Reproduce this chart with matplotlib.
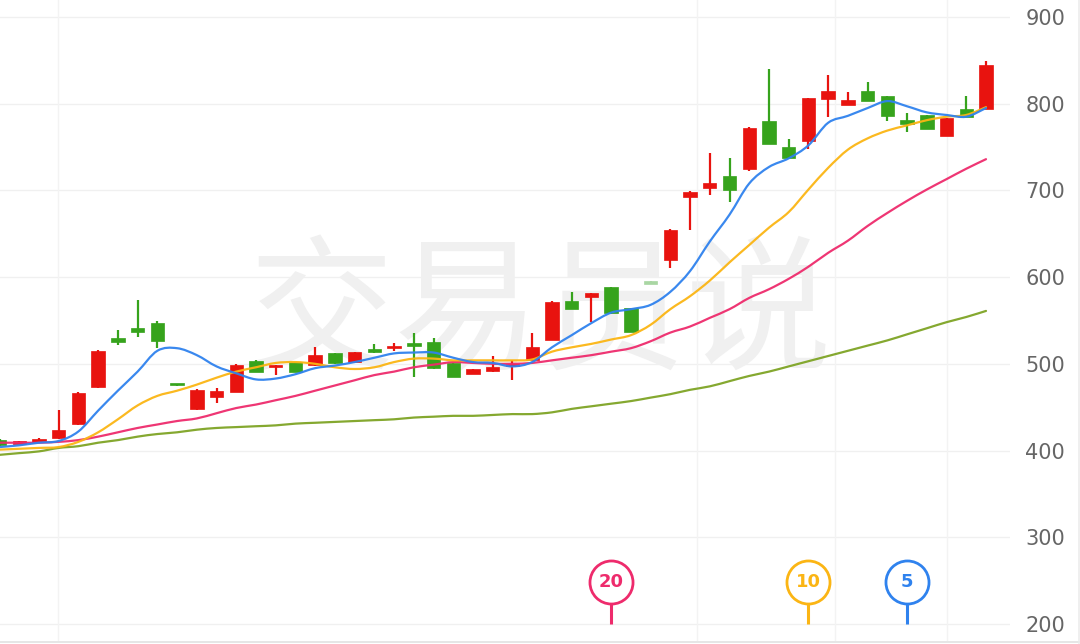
import matplotlib
matplotlib.use("Agg")
import matplotlib.pyplot as plt
from matplotlib.lines import Line2D
from matplotlib.path import Path
from matplotlib.patches import PathPatch
import numpy as np

# ---------------- data ----------------
opens = [412, 408, 410, 414, 431, 473, 530, 541, 547, 477, 448, 462, 468, 503, 496, 502, 499,
         512, 502, 517, 518, 524, 525, 501, 488, 492, 497, 504, 527, 572, 577, 589, 564, 595,
         620, 692, 703, 717, 725, 780, 750, 757, 805, 798, 815, 809, 781, 787, 763, 794, 794]
highs = [413, 411, 414, 447, 467, 516, 539, 574, 549, 477, 471, 472, 500, 504, 499, 502, 519,
         512, 514, 523, 524, 535, 530, 501, 494, 509, 504, 536, 572, 583, 582, 589, 564, 596,
         655, 699, 743, 737, 773, 840, 759, 807, 833, 813, 825, 809, 789, 787, 783, 809, 849]
lows = [405, 407, 409, 413, 430, 472, 522, 531, 518, 474, 447, 455, 467, 490, 487, 490, 498,
        500, 501, 513, 515, 485, 494, 485, 488, 491, 481, 504, 527, 563, 548, 558, 537, 592,
        610, 654, 695, 687, 722, 753, 737, 748, 785, 798, 803, 780, 767, 771, 763, 785, 794]
closes = [406, 410, 413, 424, 466, 515, 525, 537, 526, 475, 470, 469, 499, 491, 499, 491, 510,
          501, 514, 514, 520, 520, 495, 485, 494, 496, 499, 519, 571, 563, 582, 559, 537, 592,
          654, 698, 708, 700, 772, 753, 737, 807, 815, 804, 803, 786, 777, 771, 783, 785, 845]
faded = [33]  # pale (suspended-looking) candle

ma5 = [404, 406, 409, 411, 422, 446, 469, 491, 515, 518, 510, 497, 489, 482, 483, 488, 495,
       498, 502, 507, 512, 513, 513, 507, 502, 501, 497, 502, 519, 533, 547, 559, 563, 568,
       583, 607, 641, 672, 708, 727, 737, 752, 778, 786, 795, 803, 797, 790, 787, 785, 795]
ma10 = [401, 402, 403, 404, 410, 421, 436, 452, 463, 469, 476, 484, 491, 496, 501, 502, 500,
        496, 494, 496, 502, 506, 506, 504, 504, 504, 504, 505, 514, 519, 523, 528, 533, 545,
        563, 578, 596, 617, 637, 657, 675, 701, 726, 747, 760, 769, 775, 781, 785, 787, 796]
ma20 = [409, 409, 409, 410, 412, 416, 421, 426, 430, 434, 437, 443, 449, 453, 458, 463, 469,
        475, 481, 487, 491, 496, 499, 502, 501, 500, 500, 501, 504, 507, 510, 514, 518, 526,
        536, 543, 553, 563, 576, 586, 598, 612, 628, 642, 659, 674, 688, 701, 713, 725, 736]
ma60 = [395, 397, 399, 403, 405, 409, 412, 416, 419, 421, 424, 426, 427, 428, 429, 431, 432,
        433, 434, 435, 436, 438, 439, 440, 440, 441, 442, 442, 444, 448, 451, 454, 457, 461,
        465, 470, 474, 480, 486, 491, 497, 503, 509, 515, 521, 527, 534, 541, 548, 554, 561]

y_ticks = [200, 300, 400, 500, 600, 700, 800, 900]
marker_periods = [20, 10, 5]
watermark = "交易员说"

# ---------------- style ----------------
C_UP = "#e8130f"
C_DN = "#36a31c"
C_FADE = "#a9d6a3"
C_MA5 = "#2f82ee"
C_MA10 = "#fbb514"
C_MA20 = "#ee2b6c"
C_MA60 = "#7ea425"

W, H = 1080, 644
fig = plt.figure(figsize=(W / 100, H / 100), dpi=100)
fig.patch.set_facecolor("white")
ax = fig.add_axes([0, 3 / H, 1010 / W, 1 - 3 / H])
ax.set_facecolor("white")

n = len(closes)
x = np.arange(n)

# watermark
ax.text(0.535, 0.505, watermark, transform=ax.transAxes, ha="center", va="center",
        fontsize=105, color="#f0f0f0", family=["Noto Sans CJK SC", "DejaVu Sans"], zorder=0)

# grid
for v in y_ticks:
    ax.axhline(v, color="#f0f0f0", lw=1.0, zorder=0.5)
for px in [58, 697, 835, 947]:
    ax.axvline((px + 0.5) / 19.73, color="#f3f3f3", lw=1.0, zorder=0.5)

# candles
o = np.array(opens, float); c = np.array(closes, float)
hi = np.array(highs, float); lo = np.array(lows, float)
cols = []
for i in range(n):
    if i in faded:
        cols.append(C_FADE)
    elif c[i] >= o[i]:
        cols.append(C_UP)
    else:
        cols.append(C_DN)
bottom = np.minimum(o, c)
height = np.maximum(np.abs(c - o), 2.6)
ax.vlines(x, lo, hi, colors=cols, lw=1.6, zorder=2)
ax.bar(x, height, bottom=bottom, width=0.68, color=cols, edgecolor=cols, lw=0.5, zorder=3)


def smooth_line(xs, ys, color):
    """Draw a smooth (Catmull-Rom style) curve through the points."""
    pts = np.column_stack([xs, ys]).astype(float)
    m = len(pts)
    verts = [pts[0]]
    codes = [Path.MOVETO]
    for i in range(m - 1):
        p0 = pts[i - 1] if i > 0 else pts[i]
        p1 = pts[i]
        p2 = pts[i + 1]
        p3 = pts[i + 2] if i + 2 < m else pts[i + 1]
        c1 = p1 + (p2 - p0) / 6.0
        c2 = p2 - (p3 - p1) / 6.0
        verts += [c1, c2, p2]
        codes += [Path.CURVE4] * 3
    patch = PathPatch(Path(verts, codes), facecolor="none", edgecolor=color, lw=1.6,
                      zorder=4, alpha=0.95, capstyle="round", joinstyle="round")
    ax.add_patch(patch)


# moving averages
for arr, col in [(ma60, C_MA60), (ma20, C_MA20), (ma10, C_MA10), (ma5, C_MA5)]:
    smooth_line(x, arr, col)

# MA period markers
mcols = {20: C_MA20, 10: C_MA10, 5: C_MA5}
yc = 248
for p in marker_periods:
    xi = n - p
    col = mcols[p]
    ax.plot([xi, xi], [200, yc], color=col, lw=2.2, zorder=5, solid_capstyle="butt")
    ax.plot([xi], [yc], marker="o", ms=31, mfc="white", mec=col, mew=2.0, zorder=6, clip_on=False)
    ax.text(xi, yc, str(p), ha="center", va="center", color=col, fontsize=13,
            fontweight="bold", zorder=7)

# axes setup
ax.set_xlim(0.5 / 19.73, 1010.5 / 19.73)
ax.set_ylim(180.3, 919.6)
ax.yaxis.tick_right()
ax.set_yticks(y_ticks)
ax.set_yticklabels([str(v) for v in y_ticks])
ax.tick_params(axis="y", length=0, pad=11, labelsize=15, labelcolor="#666666")
ax.set_xticks([])
for s in ax.spines.values():
    s.set_visible(False)

# outer frame lines
fig.add_artist(Line2D([0, 1], [2.5 / H, 2.5 / H], color="#e2e2e2", lw=1.2))
fig.add_artist(Line2D([1078.5 / W, 1078.5 / W], [0, 1], color="#ececec", lw=1.2))

fig.savefig("out.png", dpi=100, facecolor="white")
